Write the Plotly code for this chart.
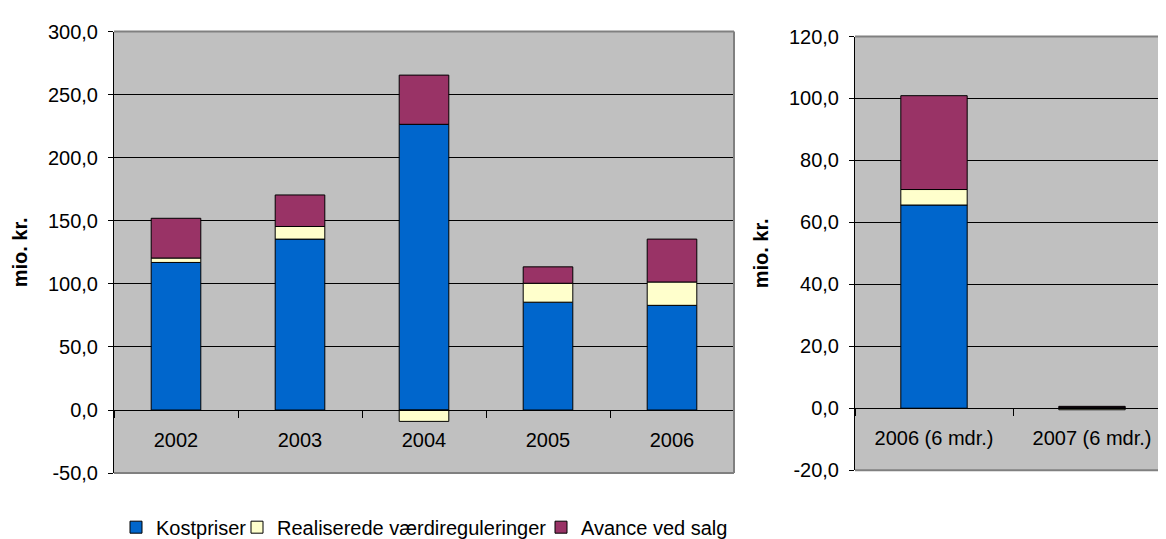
import plotly.graph_objects as go

# ---------------- data ----------------
years = ["2002", "2003", "2004", "2005", "2006"]
kostpriser = [117.0, 135.5, 226.5, 85.5, 83.0]
realiserede = [3.5, 10.0, -9.0, 15.0, 18.5]
avance = [31.5, 25.0, 39.0, 13.0, 34.0]

half_years = ["2006 (6 mdr.)", "2007 (6 mdr.)"]
kostpriser_h = [65.6, 0.3]
realiserede_h = [5.0, -0.5]
avance_h = [30.3, 0.3]

series_names = ["Kostpriser", "Realiserede værdireguleringer", "Avance ved salg"]
series_colors = ["#0066CC", "#FFFFCC", "#993366"]

left_ticks = [-50, 0, 50, 100, 150, 200, 250, 300]
right_ticks = [-20, 0, 20, 40, 60, 80, 100, 120]
y_title = "mio. kr."


def fmt(v):
    return f"{v:.1f}".replace(".", ",")


FONT = "Liberation Sans, Arial, sans-serif"
FS = 20

# ---------------- layout geometry ----------------
W, H = 1166, 539
lx = [106 / W, 726 / W]
ly = [1 - 473 / H, 1 - 24 / H]
rx = [847 / W, 1163 / W]
ry = [1 - 470 / H, 1 - 29 / H]
legend_x_px = [108, 229, 533]
legend_keys = ["legend", "legend2", "legend3"]


def zero_pos(dom, rng):
    return dom[0] + (0 - rng[0]) / (rng[1] - rng[0]) * (dom[1] - dom[0])


fig = go.Figure()

left_series = [kostpriser, realiserede, avance]
right_series = [kostpriser_h, realiserede_h, avance_h]

for name, col, vals, lg in zip(series_names, series_colors, left_series, legend_keys):
    fig.add_trace(go.Bar(x=years, y=vals, name=name, marker=dict(color=col, line=dict(color="black", width=1)),
                         width=0.4, xaxis="x", yaxis="y", showlegend=True, legend=lg))
for name, col, vals in zip(series_names, series_colors, right_series):
    fig.add_trace(go.Bar(x=half_years, y=vals, name=name, marker=dict(color=col, line=dict(color="black", width=1)),
                         width=0.42, xaxis="x2", yaxis="y2", showlegend=False))

lrange = [left_ticks[0], left_ticks[-1]]
rrange = [right_ticks[0], right_ticks[-1]]

common_x = dict(type="category", tickson="boundaries", ticks="outside", ticklen=7, tickcolor="black",
                showline=True, linecolor="black", linewidth=1, showgrid=False,
                tickfont=dict(family=FONT, size=FS, color="black"), ticklabelstandoff=12,
                anchor="free", automargin=False, fixedrange=True)
common_y = dict(ticks="outside", ticklen=5, tickcolor="black", showline=True, linecolor="black", linewidth=1,
                showgrid=True, gridcolor="black", gridwidth=1, zeroline=True, zerolinecolor="black",
                zerolinewidth=1, tickfont=dict(family=FONT, size=FS, color="black"), ticklabelstandoff=6,
                automargin=False, fixedrange=True)

legend_common = dict(orientation="h", xanchor="left", y=1 - 528 / H, yanchor="middle",
                     font=dict(family=FONT, size=FS, color="black"), itemwidth=30,
                     bgcolor="rgba(0,0,0,0)", borderwidth=0)

layout_legends = {k: dict(x=px / W, **legend_common) for k, px in zip(legend_keys, legend_x_px)}

fig.update_layout(
    width=W, height=H,
    margin=dict(l=0, r=0, t=0, b=0),
    paper_bgcolor="white",
    plot_bgcolor="#C0C0C0",
    barmode="relative",
    font=dict(family=FONT, size=FS, color="black"),
    xaxis=dict(domain=lx, position=zero_pos(ly, lrange), **common_x),
    yaxis=dict(domain=ly, range=lrange, tickvals=left_ticks, ticktext=[fmt(v) for v in left_ticks],
               title=dict(text="<b>" + y_title + "</b>", font=dict(family=FONT, size=FS), standoff=14),
               anchor="x", **common_y),
    xaxis2=dict(domain=rx, position=zero_pos(ry, rrange), **common_x),
    yaxis2=dict(domain=ry, range=rrange, tickvals=right_ticks, ticktext=[fmt(v) for v in right_ticks],
                title=dict(text="<b>" + y_title + "</b>", font=dict(family=FONT, size=FS), standoff=14),
                anchor="x2", **common_y),
    **layout_legends,
)

# plot-area borders (top, right, bottom) in grey
shapes = []
for xr, yr in [("x domain", "y domain"), ("x2 domain", "y2 domain")]:
    for (x0, y0, x1, y1) in [(0, 1, 1, 1), (1, 0, 1, 1), (0, 0, 1, 0)]:
        shapes.append(dict(type="line", xref=xr, yref=yr, x0=x0, y0=y0, x1=x1, y1=y1,
                           line=dict(color="#808080", width=2), layer="above"))
fig.update_layout(shapes=shapes)

fig.write_html("out.html")
